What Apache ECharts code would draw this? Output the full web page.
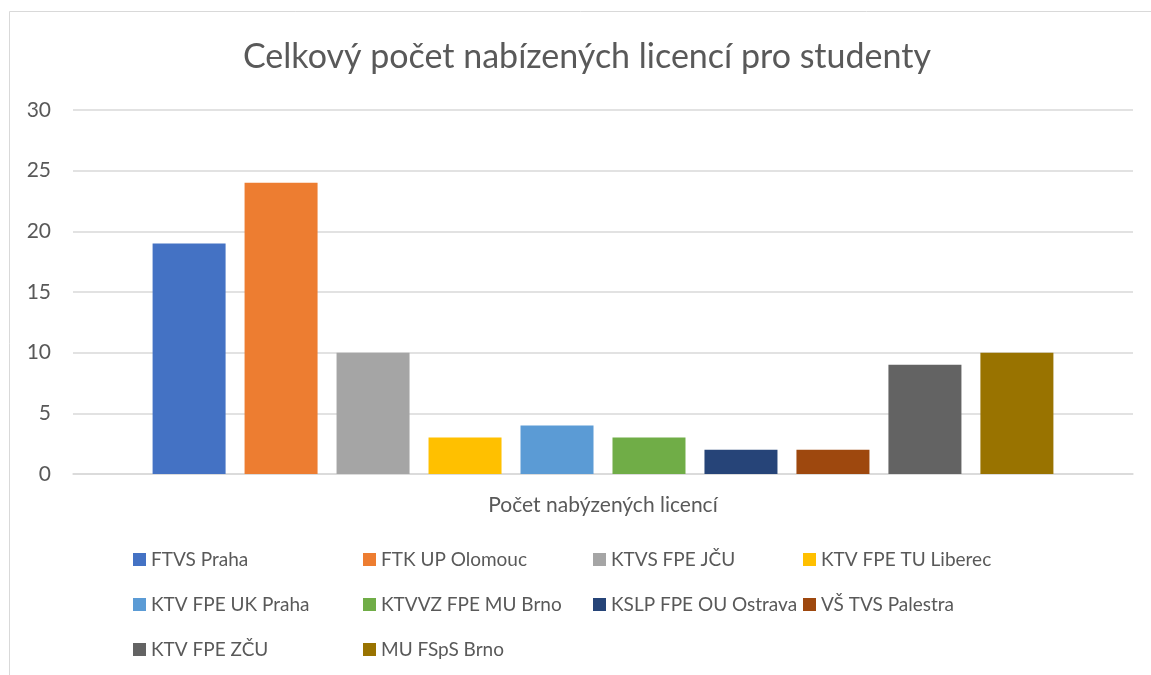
<!DOCTYPE html>
<html>
<head>
<meta charset="utf-8">
<script src="https://cdn.jsdelivr.net/npm/echarts@6/dist/echarts.min.js"></script>
<style>html,body{margin:0;padding:0;background:#fff}#c{width:1151px;height:675px}</style>
</head>
<body>
<div id="c"></div>
<script>
const categories = ['Počet nabýzených licencí'];
const seriesNames = ['FTVS Praha','FTK UP Olomouc','KTVS FPE JČU','KTV FPE TU Liberec','KTV FPE UK Praha','KTVVZ FPE MU Brno','KSLP FPE OU Ostrava','VŠ TVS Palestra','KTV FPE ZČU','MU FSpS Brno'];
const seriesValues = [19, 24, 10, 3, 4, 3, 2, 2, 9, 10];
const colors = ['#4472C4','#ED7D31','#A5A5A5','#FFC000','#5B9BD5','#70AD47','#264478','#9E480E','#636363','#997300'];
const yTicks = [0, 5, 10, 15, 20, 25, 30];

const legendColumns = [
  [0, 4, 8], [1, 5, 9], [2, 6], [3, 7]
];
const legendLefts = [128, 358, 588, 798];
const font = 'Lato, "Open Sans", sans-serif';

const chart = echarts.init(document.getElementById('c'), null, {renderer: 'canvas'});
chart.setOption({
  animation: false,
  color: colors,
  title: {
    text: 'Celkový počet nabízených licencí pro studenty',
    left: 238, top: 35, textAlign: 'left',
    textStyle: {fontFamily: font, fontSize: 34, fontWeight: 'normal', color: '#595959'}
  },
  graphic: [{
    type: 'rect', shape: {x: 9.5, y: 11.5, width: 1160, height: 700},
    style: {fill: 'none', stroke: '#d9d9d9', lineWidth: 1}, silent: true
  }],
  legend: legendColumns.map((col, i) => ({
    data: col.map(k => seriesNames[k]),
    orient: 'vertical',
    left: legendLefts[i], top: 545,
    itemWidth: 13, itemHeight: 13, itemGap: 26,
    icon: 'rect',
    textStyle: {fontFamily: font, fontSize: 19, color: '#595959'},
    selectedMode: false
  })),
  grid: {left: 73, right: 18, top: 110, bottom: 201, containLabel: false},
  xAxis: {
    type: 'category', data: categories,
    axisLine: {lineStyle: {color: '#d9d9d9', width: 1.5}},
    axisTick: {show: false},
    axisLabel: {fontFamily: font, fontSize: 21, color: '#595959', margin: 21}
  },
  yAxis: {
    type: 'value', min: yTicks[0], max: yTicks[yTicks.length-1], interval: 5,
    axisLine: {show: false}, axisTick: {show: false},
    axisLabel: {fontFamily: font, fontSize: 21, color: '#595959', margin: 22},
    splitLine: {lineStyle: {color: '#d9d9d9', width: 1.5}}
  },
  series: seriesNames.map((name, i) => ({
    name, type: 'bar',
    data: [seriesValues[i]],
    barWidth: 73, barGap: '26%',
    itemStyle: {color: colors[i]}
  }))
});
</script>
</body>
</html>
